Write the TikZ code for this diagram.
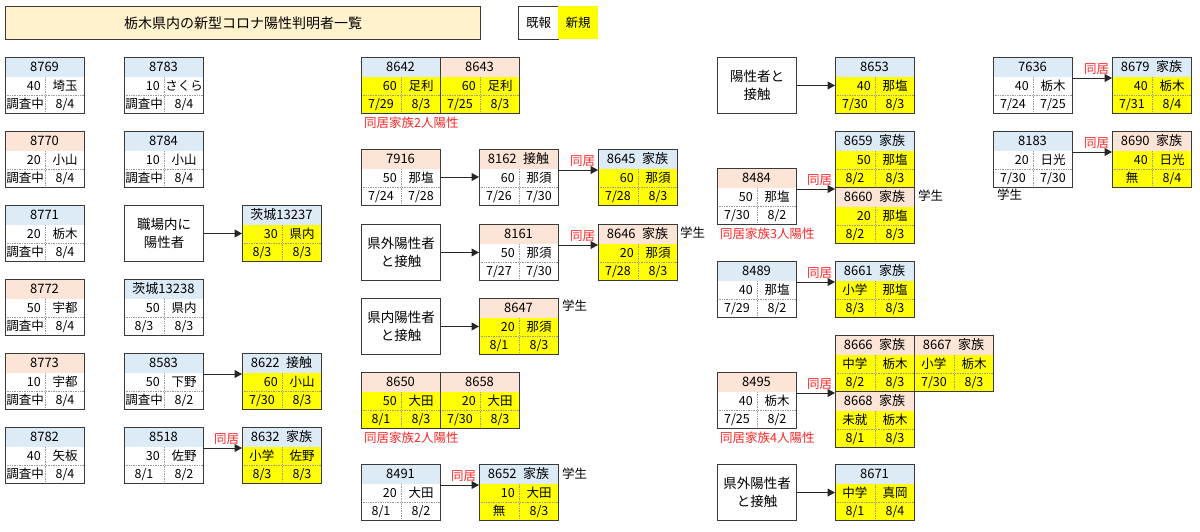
\documentclass[tikz,border=0pt]{standalone}
\usepackage{fontspec}
\setmainfont{Noto Sans CJK JP}
\usepackage{xcolor}
\usetikzlibrary{arrows.meta,positioning}

\definecolor{hdblue}{HTML}{DDEBF7}
\definecolor{hdpeach}{HTML}{FCE4D6}
\definecolor{newyel}{HTML}{FFFF00}
\definecolor{titlebg}{HTML}{FFF2CC}
\definecolor{frame}{HTML}{3A3A3A}
\definecolor{samered}{HTML}{FF2626}

\newcommand{\ctr}[1]{\makebox[32pt]{#1}}

% card: name, top-left, header fill, body fill, header, age, city, onset, confirmed
\newcommand{\card}[9]{%
  \node[cardbox, fill=#4, anchor=north west] (#1) at #2 {};
  \fill[#3] (#1.north west) rectangle ([yshift=-20pt]#1.north east);
  \draw[cellline] ([shift={(40pt,-20pt)}]#1.north west) -- ([xshift=40pt]#1.south west);
  \draw[cellline] ([yshift=-38pt]#1.north west) -- ([yshift=-38pt]#1.north east);
  \node[hdtext] (#1-hd) at ([shift={(39.5pt,-10pt)}]#1.north west) {#5};
  \node[celltext, anchor=east] (#1-age) at ([shift={(36pt,-29pt)}]#1.north west) {#6};
  \node[celltext] (#1-city) at ([shift={(60pt,-29pt)}]#1.north west) {#7};
  \node[celltext] (#1-on) at ([shift={(20pt,-47pt)}]#1.north west) {#8};
  \node[celltext] (#1-cf) at ([shift={(60pt,-47pt)}]#1.north west) {#9};
  \draw[frameline] (#1.north west) rectangle (#1.south east);
  \coordinate (#1-e) at ([yshift=-21pt]#1.north east);
  \coordinate (#1-w) at ([yshift=-21pt]#1.north west);
}

\begin{document}
\begin{tikzpicture}[
  x=1pt, y=-1pt,
  font=\fontsize{12.5}{14}\selectfont,
  cardbox/.style={minimum width=79pt, minimum height=56pt, inner sep=0pt, outer sep=0pt},
  frameline/.style={draw=frame, line width=1pt},
  cellline/.style={draw=gray!80, densely dotted, line width=0.7pt},
  hdtext/.style={inner sep=0pt, text height=11pt, text depth=2pt, font=\fontsize{13}{14}\selectfont},
  celltext/.style={inner sep=0pt, text height=11pt, text depth=2pt},
  tbox/.style={draw=frame, line width=1pt, fill=white, minimum width=79pt, minimum height=56pt,
    inner sep=0pt, align=center, anchor=north west, font=\fontsize{13.5}{18}\selectfont},
  arrow/.style={-{Triangle[length=7.5pt,width=8pt]}, line width=1pt, draw=black!85},
  same/.style={text=samered, anchor=south east, inner sep=2.5pt, font=\fontsize{12.5}{14}\selectfont},
  famnote/.style={text=samered, anchor=north west, inner sep=0pt, font=\fontsize{12.5}{14}\selectfont},
  student/.style={anchor=west, inner sep=0pt}
]
\useasboundingbox (0,0) rectangle (1200,531);

% title and legend
\node[draw=frame, line width=1pt, fill=titlebg, minimum width=475pt, minimum height=33pt,
  anchor=north west, font=\fontsize{14}{16}\selectfont] (title) at (5,6) {栃木県内の新型コロナ陽性判明者一覧};
\node[draw=frame, line width=1pt, fill=white, minimum width=40pt, minimum height=33pt, anchor=north west] (kihou) at (518,6) {既報};
\node[fill=newyel, minimum width=40pt, minimum height=33pt, anchor=north west] (shinki) at (558,6) {新規};

% left columns
\card{8769}{(5,57)}{hdblue}{white}{8769}{40}{埼玉}{調査中}{8/4}
\card{8770}{(5,131)}{hdpeach}{white}{8770}{20}{小山}{調査中}{8/4}
\card{8771}{(5,205)}{hdblue}{white}{8771}{20}{栃木}{調査中}{8/4}
\card{8772}{(5,279)}{hdpeach}{white}{8772}{50}{宇都}{調査中}{8/4}
\card{8773}{(5,353)}{hdpeach}{white}{8773}{10}{宇都}{調査中}{8/4}
\card{8782}{(5,427)}{hdblue}{white}{8782}{40}{矢板}{調査中}{8/4}

\card{8783}{(124,57)}{hdblue}{white}{8783}{10}{さくら}{調査中}{8/4}
\card{8784}{(124,131)}{hdblue}{white}{8784}{10}{小山}{調査中}{8/4}
\node[tbox] (work) at (124,205) {職場内に\\陽性者};
\card{ib13238}{(124,279)}{hdblue}{white}{茨城13238}{50}{県内}{8/3}{8/3}
\card{8583}{(124,353)}{hdblue}{white}{8583}{50}{下野}{調査中}{8/2}
\card{8518}{(124,427)}{hdblue}{white}{8518}{30}{佐野}{8/1}{8/2}

\card{ib13237}{(242,205)}{hdblue}{newyel}{茨城13237}{30}{県内}{8/3}{8/3}
\card{8622}{(242,353)}{hdblue}{newyel}{8622\enspace 接触}{60}{小山}{7/30}{8/3}
\card{8632}{(242,427)}{hdblue}{newyel}{8632\enspace 家族}{\ctr{小学}}{佐野}{8/3}{8/3}

\draw[arrow] (work.east) -- (work.east -| ib13237.west);
\draw[arrow] (8583-e) -- (8622-w);
\draw[arrow] (8518-e) -- node[same, pos=1] (l8632) {同居} (8632-w);

% middle
\card{8642}{(361,57)}{hdblue}{newyel}{8642}{60}{足利}{7/29}{8/3}
\card{8643}{(440,57)}{hdpeach}{newyel}{8643}{60}{足利}{7/25}{8/3}
\node[famnote] (n8642) at ([shift={(3pt,-4pt)}]8642.south west) {同居家族2人陽性};

\card{7916}{(361,149)}{hdpeach}{white}{7916}{50}{那塩}{7/24}{7/28}
\card{8162}{(479,149)}{hdpeach}{white}{8162\enspace 接触}{60}{那須}{7/26}{7/30}
\card{8645}{(598,149)}{hdblue}{newyel}{8645\enspace 家族}{60}{那須}{7/28}{8/3}
\draw[arrow] (7916.east) -- (8162.west);
\draw[arrow] (8162-e) -- node[same, pos=1] (l8645) {同居} (8645-w);

\node[tbox] (outside1) at (361,224) {県外陽性者\\と接触};
\card{8161}{(479,224)}{hdpeach}{white}{8161}{50}{那須}{7/27}{7/30}
\card{8646}{(598,224)}{hdpeach}{newyel}{8646\enspace 家族}{20}{那須}{7/28}{8/3}
\node[student] (s8646) at ([shift={(3pt,-9pt)}]8646.north east) {学生};
\draw[arrow] (outside1.east) -- (outside1.east -| 8161.west);
\draw[arrow] (8161-e) -- node[same, pos=1] (l8646) {同居} (8646-w);

\node[tbox] (inside) at (361,298) {県内陽性者\\と接触};
\card{8647}{(479,298)}{hdpeach}{newyel}{8647}{20}{那須}{8/1}{8/3}
\node[student] (s8647) at ([shift={(4pt,-8pt)}]8647.north east) {学生};
\draw[arrow] (inside.east) -- (inside.east -| 8647.west);

\card{8650}{(361,372)}{hdpeach}{newyel}{8650}{50}{大田}{8/1}{8/3}
\card{8658}{(440,372)}{hdpeach}{newyel}{8658}{20}{大田}{7/30}{8/3}
\node[famnote] (n8650) at ([shift={(3pt,-4pt)}]8650.south west) {同居家族2人陽性};

\card{8491}{(361,464)}{hdblue}{white}{8491}{20}{大田}{8/1}{8/2}
\card{8652}{(479,464)}{hdblue}{newyel}{8652\enspace 家族}{10}{大田}{無}{8/3}
\node[student] (s8652) at ([shift={(4pt,-10pt)}]8652.north east) {学生};
\draw[arrow] (8491-e) -- node[same, pos=1] (l8652) {同居} (8652-w);

% right
\node[tbox] (contact) at (717,57) {陽性者と\\接触};
\card{8653}{(835,57)}{hdblue}{newyel}{8653}{40}{那塩}{7/30}{8/3}
\draw[arrow] (contact.east) -- (contact.east -| 8653.west);

\card{8659}{(835,131)}{hdblue}{newyel}{8659\enspace 家族}{50}{那塩}{8/2}{8/3}
\card{8660}{(835,187)}{hdpeach}{newyel}{8660\enspace 家族}{20}{那塩}{8/2}{8/3}
\node[student] (s8660) at ([shift={(4pt,-9pt)}]8660.north east) {学生};
\card{8484}{(717,168)}{hdpeach}{white}{8484}{50}{那塩}{7/30}{8/2}
\node[famnote] (n8484) at ([shift={(3pt,-4pt)}]8484.south west) {同居家族3人陽性};
\draw[arrow] (8484-e) -- node[same, pos=1] (l8660) {同居} (8484-e -| 8660.west);

\card{8489}{(717,261)}{hdblue}{white}{8489}{40}{那塩}{7/29}{8/2}
\card{8661}{(835,261)}{hdblue}{newyel}{8661\enspace 家族}{\ctr{小学}}{那塩}{8/3}{8/3}
\draw[arrow] (8489-e) -- node[same, pos=1] (l8661) {同居} (8661-w);

\card{8666}{(835,335)}{hdpeach}{newyel}{8666\enspace 家族}{\ctr{中学}}{栃木}{8/2}{8/3}
\card{8667}{(914,335)}{hdpeach}{newyel}{8667\enspace 家族}{\ctr{小学}}{栃木}{7/30}{8/3}
\card{8668}{(835,391)}{hdpeach}{newyel}{8668\enspace 家族}{\ctr{未就}}{栃木}{8/1}{8/3}
\card{8495}{(717,372)}{hdpeach}{white}{8495}{40}{栃木}{7/25}{8/2}
\node[famnote] (n8495) at ([shift={(3pt,-4pt)}]8495.south west) {同居家族4人陽性};
\draw[arrow] (8495-e) -- node[same, pos=1] (l8668) {同居} (8495-e -| 8668.west);

\node[tbox] (outside2) at (717,464) {県外陽性者\\と接触};
\card{8671}{(835,464)}{hdblue}{newyel}{8671}{\ctr{中学}}{真岡}{8/1}{8/4}
\draw[arrow] (outside2.east) -- (outside2.east -| 8671.west);

% far right
\card{7636}{(993,57)}{hdblue}{white}{7636}{40}{栃木}{7/24}{7/25}
\card{8679}{(1112,57)}{hdblue}{newyel}{8679\enspace 家族}{40}{栃木}{7/31}{8/4}
\draw[arrow] (7636-e) -- node[same, pos=1] (l8679) {同居} (8679-w);

\card{8183}{(993,131)}{hdblue}{white}{8183}{20}{日光}{7/30}{7/30}
\card{8690}{(1112,131)}{hdpeach}{newyel}{8690\enspace 家族}{40}{日光}{無}{8/4}
\node[student] (s8183) at ([shift={(4pt,-8pt)}]8183.south west) {学生};
\draw[arrow] (8183-e) -- node[same, pos=1] (l8690) {同居} (8690-w);
\end{tikzpicture}
\end{document}
